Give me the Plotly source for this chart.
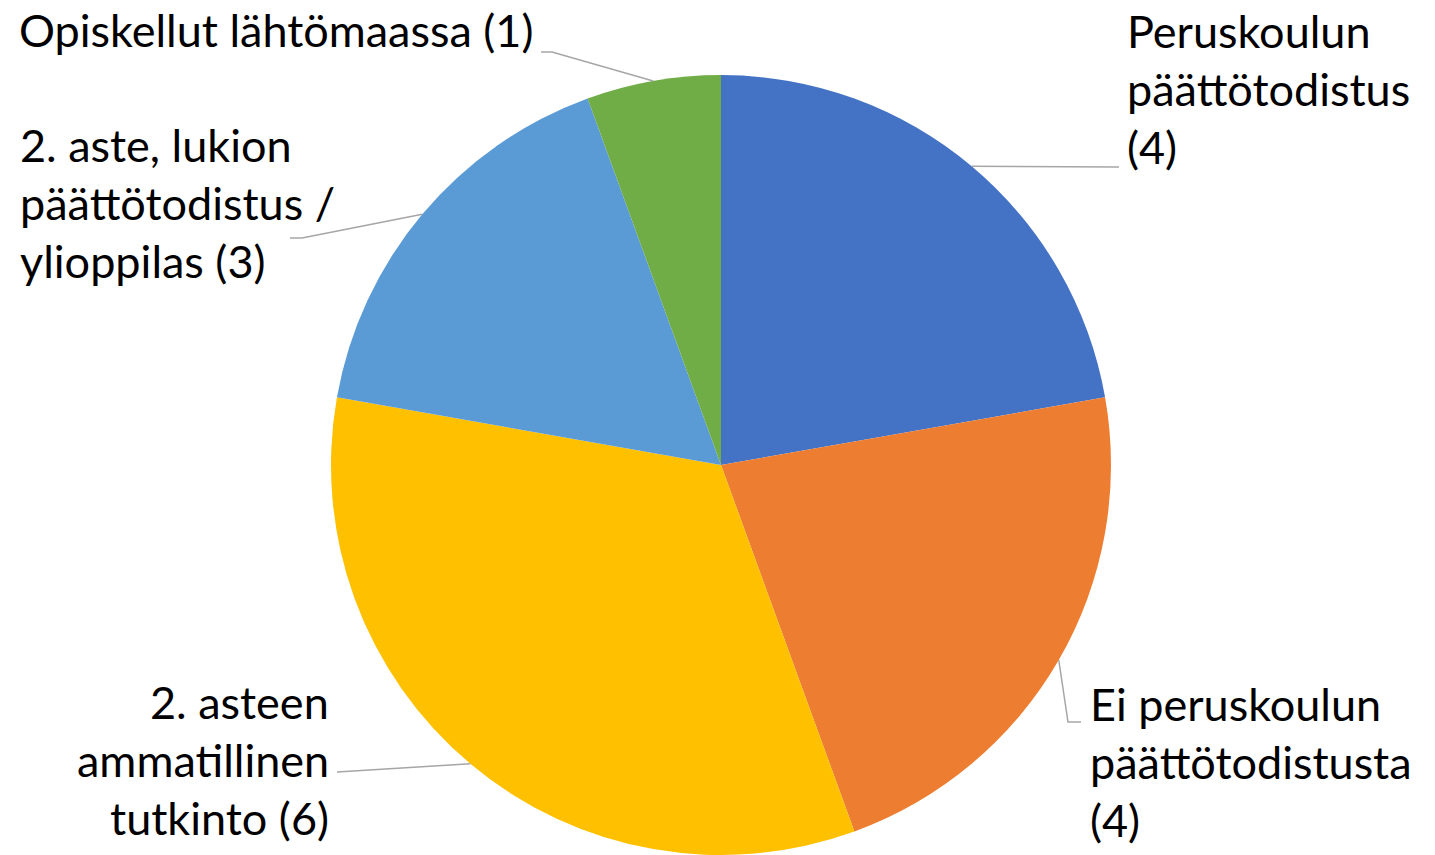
import math
import plotly.graph_objects as go

labels = ["Peruskoulun päättötodistus", "Ei peruskoulun päättötodistusta",
          "2. asteen ammatillinen tutkinto", "2. aste, lukion päättötodistus / ylioppilas",
          "Opiskellut lähtömaassa"]
values = [4, 4, 6, 3, 1]
colors = ["#4472C4", "#ED7D31", "#FFC000", "#5B9BD5", "#70AD47"]
label_lines = [
    ["Peruskoulun", "päättötodistus", "(4)"],
    ["Ei peruskoulun", "päättötodistusta", "(4)"],
    ["2. asteen", "ammatillinen", "tutkinto (6)"],
    ["2. aste, lukion", "päättötodistus /", "ylioppilas (3)"],
    ["Opiskellut lähtömaassa (1)"],
]

OFF = 8  # page body margin
W, H = 1435 - OFF, 855 - OFF
CX, CY, R = 721, 465, 390  # pie centre/radius in page pixels

label_pos = [
    (1125, 31, "left"),
    (1088, 704, "left"),
    (331, 702, "right"),
    (18, 145, "left"),
    (535, 30, "right"),
]
leader_pts = [
    [(1119, 167)],
    [(1068, 722), (1081, 722)],
    [(337, 772)],
    [(302, 238), (290, 238)],
    [(552, 52), (541, 52)],
]
LINE_H = 58


def px(x):
    return (x - OFF) / W


def py(y):
    return 1 - (y - OFF) / H


fig = go.Figure(go.Pie(
    labels=labels, values=values, sort=False, direction="clockwise", rotation=0,
    marker=dict(colors=colors, line=dict(width=0)), textinfo="none",
    hoverinfo="label+value",
    domain=dict(x=[px(CX - R), px(CX + R)], y=[max(0, py(CY + R)), py(CY - R)]),
    showlegend=False,
))

total = sum(values)
cum = 0
shapes = []
annotations = []
for i, v in enumerate(values):
    mid = (cum + v / 2) / total * 2 * math.pi
    cum += v
    ax = CX + R * math.sin(mid)
    ay = CY - R * math.cos(mid)
    pts = [(ax, ay)] + leader_pts[i]
    path = "M " + " L ".join(f"{px(x)},{py(y)}" for x, y in pts)
    shapes.append(dict(type="path", path=path, xref="paper", yref="paper",
                       line=dict(color="#A6A6A6", width=1.5)))
    tx, ty, al = label_pos[i]
    for j, line in enumerate(label_lines[i]):
        annotations.append(dict(
            text=line, x=px(tx), y=py(ty + j * LINE_H), xref="paper", yref="paper",
            xanchor=al, yanchor="middle", align=al, showarrow=False,
            font=dict(family="Lato", size=45, color="black")))

fig.update_layout(
    width=W, height=H, margin=dict(l=0, r=0, t=0, b=0),
    paper_bgcolor="white", plot_bgcolor="white",
    shapes=shapes, annotations=annotations,
)
fig.write_html("out.html")
